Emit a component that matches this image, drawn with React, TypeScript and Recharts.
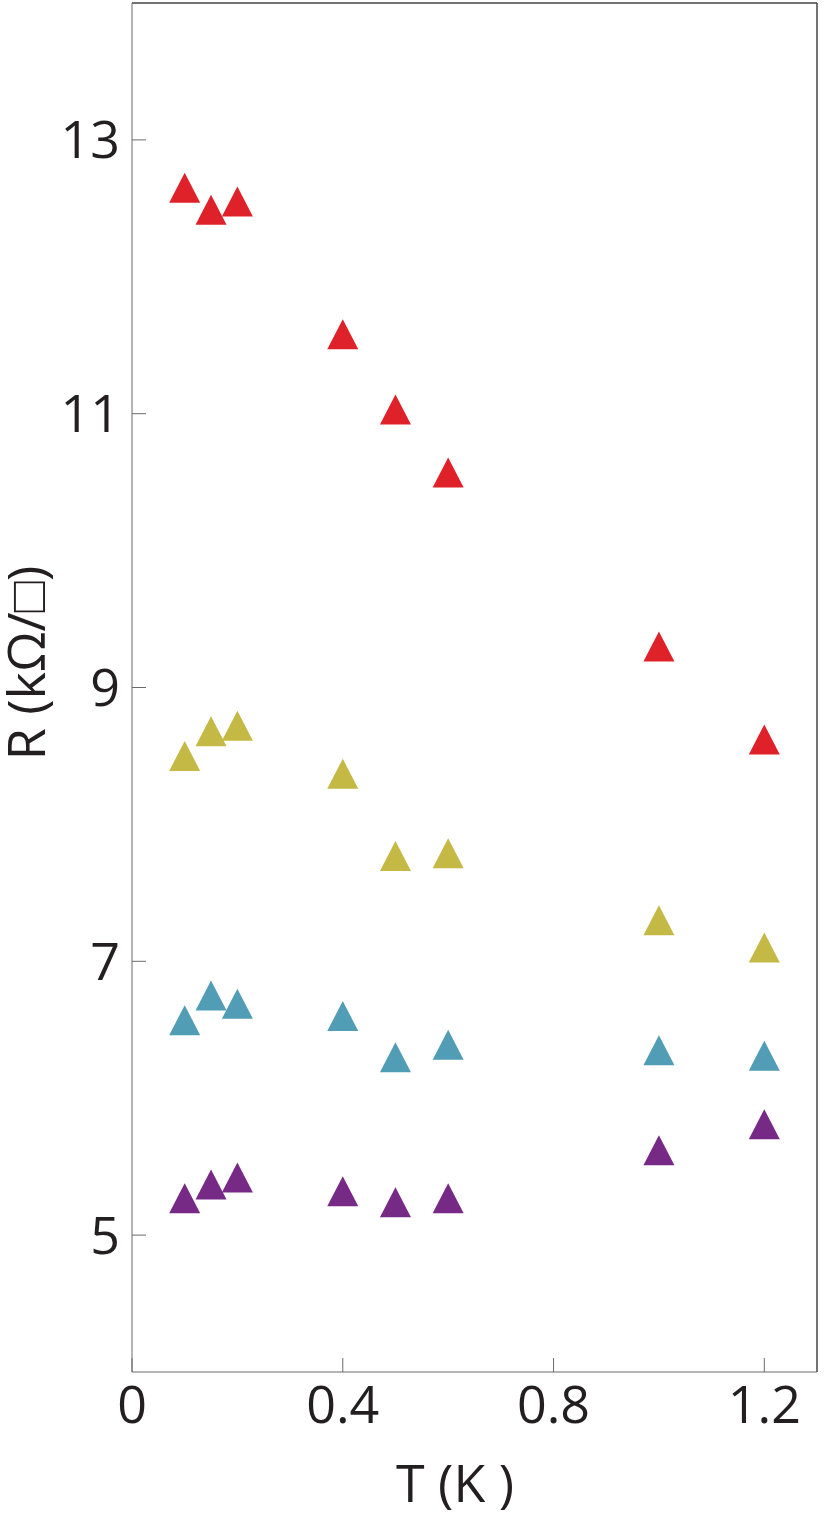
import { ScatterChart, Scatter, XAxis, YAxis, ReferenceLine } from 'recharts'

const temps = [0.1, 0.15, 0.2, 0.4, 0.5, 0.6, 1.0, 1.2]
const redR = [12.65, 12.49, 12.55, 11.58, 11.03, 10.57, 9.3, 8.62]
const yellowR = [8.5, 8.68, 8.72, 8.37, 7.77, 7.79, 7.3, 7.1]
const blueR = [6.57, 6.75, 6.69, 6.6, 6.3, 6.39, 6.35, 6.31]
const purpleR = [5.27, 5.37, 5.42, 5.32, 5.24, 5.27, 5.62, 5.81]

const xTicks = [0, 0.4, 0.8, 1.2]
const yTicks = [5, 7, 9, 11, 13]

const series = [
  { name: 'red', color: '#df2229', values: redR },
  { name: 'yellow', color: '#c4b944', values: yellowR },
  { name: 'blue', color: '#519db5', values: blueR },
  { name: 'purple', color: '#772a85', values: purpleR },
]

const font = '"Open Sans", sans-serif'
const textColor = '#231f20'

// triangle marker, slightly taller than equilateral like the original
const Triangle = (props: any) => {
  const { cx, cy, fill } = props
  if (cx == null || cy == null) return null
  const w = 15.5
  const h = 15
  return <path d={`M${cx},${cy - h}L${cx + w},${cy + h}L${cx - w},${cy + h}Z`} fill={fill} />
}

const fmtX = (v: number) => (v === 0 ? '0' : v.toFixed(1))

export default function App() {
  return (
    <div style={{ position: 'absolute', left: 0, top: 0, background: '#fff' }}>
      <ScatterChart width={832} height={1530} margin={{ top: 3, right: 15, left: 0, bottom: 0 }}>
        <XAxis
          type="number"
          dataKey="t"
          domain={[0, 1.3]}
          ticks={xTicks}
          tickFormatter={fmtX}
          allowDataOverflow
          height={158}
          stroke="#6b6b6b"
          tickSize={-14}
          tickMargin={28}
          tick={{ fontSize: 52, fill: textColor, fontFamily: font }}
          label={{
            content: () => (
              <text x={455} y={1502} textAnchor="middle" fontSize={52} fill={textColor} fontFamily={font}>
                T (K )
              </text>
            ),
          }}
        />
        <YAxis
          type="number"
          dataKey="r"
          domain={[4, 14]}
          ticks={yTicks}
          allowDataOverflow
          width={132}
          stroke="#6b6b6b"
          tickSize={-14}
          tickMargin={26}
          tick={{ fontSize: 52, fill: textColor, fontFamily: font }}
          label={{
            content: () => (
              <text
                x={30}
                y={678}
                transform="rotate(-90, 30, 663)"
                textAnchor="middle"
                fontSize={52}
                fill={textColor}
                fontFamily={font}
              >
                R (kΩ/□)
              </text>
            ),
          }}
        />
        <ReferenceLine y={14} stroke="#444" strokeWidth={1.5} />
        <ReferenceLine x={1.3} stroke="#444" strokeWidth={1.5} />
        {series.map((s) => (
          <Scatter
            key={s.name}
            name={s.name}
            data={temps.map((t, i) => ({ t, r: s.values[i] }))}
            fill={s.color}
            shape={Triangle}
            isAnimationActive={false}
          />
        ))}
      </ScatterChart>
    </div>
  )
}
